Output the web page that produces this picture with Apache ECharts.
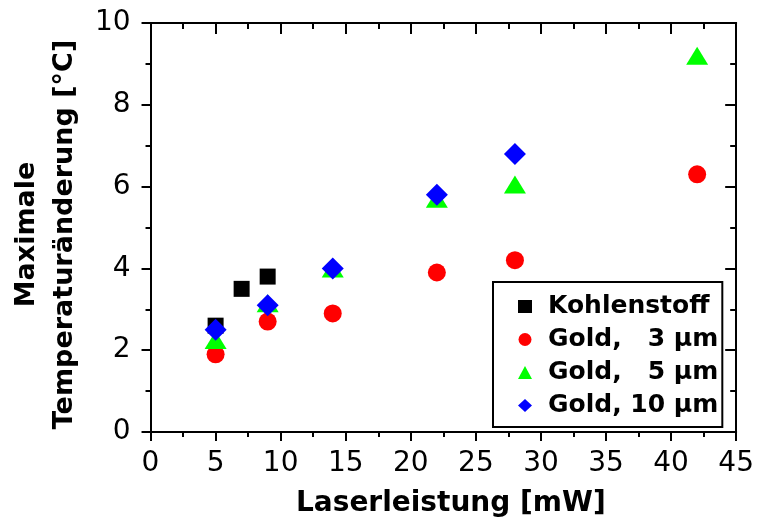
<!DOCTYPE html>
<html>
<head>
<meta charset="utf-8">
<script src="https://cdn.jsdelivr.net/npm/echarts@6/dist/echarts.min.js"></script>
<style>
html,body{margin:0;padding:0;background:#fff;}
#chart{width:757px;height:523px;}
</style>
</head>
<body>
<div id="chart"></div>
<script>
// ---- data ----
const seriesNames = ['Kohlenstoff', 'Gold,   3 µm', 'Gold,   5 µm', 'Gold, 10 µm'];
const kohlenstoffX = [5, 7, 9];
const kohlenstoffY = [2.6, 3.5, 3.8];
const gold3X = [5, 9, 14, 22, 28, 42];
const gold3Y = [1.9, 2.7, 2.9, 3.9, 4.2, 6.3];
const gold5X = [5, 9, 14, 22, 28, 42];
const gold5Y = [2.25, 3.15, 4.0, 5.7, 6.05, 9.2];
const gold10X = [5, 9, 14, 22, 28];
const gold10Y = [2.5, 3.1, 4.0, 5.8, 6.8];
const xTitle = 'Laserleistung [mW]';
const yTitle = 'Maximale\nTemperaturänderung [°C]';

function pairs(xs, ys) { return xs.map((x, i) => [x, ys[i]]); }

const FONT = '"DejaVu Sans", sans-serif';
const chart = echarts.init(document.getElementById('chart'), null, {renderer: 'canvas'});

const baseAxisLine = {show: true, onZero: false, lineStyle: {color: '#000', width: 2}};
const outerTick = {show: true, inside: false, length: 9, lineStyle: {color: '#000', width: 2}};
const innerTick = {show: true, inside: true, length: 11, lineStyle: {color: '#000', width: 2}};

chart.setOption({
  animation: false,
  backgroundColor: '#fff',
  grid: {left: 147, right: 19, top: 23, bottom: 87, containLabel: false},
  xAxis: [{
    type: 'value', min: 0, max: 45, interval: 5, position: 'bottom',
    axisLine: baseAxisLine,
    axisTick: outerTick,
    minorTick: {show: true, splitNumber: 2, length: 5, lineStyle: {color: '#000', width: 2}},
    splitLine: {show: false}, minorSplitLine: {show: false},
    axisLabel: {color: '#000', fontFamily: FONT, fontSize: 28, margin: 18, lineHeight: 28},
    name: xTitle, nameLocation: 'middle', nameGap: 58,
    nameTextStyle: {color: '#000', fontFamily: FONT, fontWeight: 'bold', fontSize: 28, lineHeight: 28, padding: [0, 0, 0, 15]}
  }, {
    type: 'value', min: 0, max: 45, interval: 5, position: 'top',
    axisLine: baseAxisLine,
    axisTick: innerTick,
    minorTick: {show: true, splitNumber: 2, length: 6, lineStyle: {color: '#000', width: 2}},
    splitLine: {show: false},
    axisLabel: {show: false}
  }],
  yAxis: [{
    type: 'value', min: 0, max: 10, interval: 2, position: 'left',
    axisLine: baseAxisLine,
    axisTick: outerTick,
    minorTick: {show: true, splitNumber: 2, length: 5, lineStyle: {color: '#000', width: 2}},
    splitLine: {show: false}, minorSplitLine: {show: false},
    axisLabel: {color: '#000', fontFamily: FONT, fontSize: 28, margin: 20},
    name: yTitle, nameLocation: 'middle', nameGap: 65,
    nameTextStyle: {color: '#000', fontFamily: FONT, fontWeight: 'bold', fontSize: 27, lineHeight: 38, padding: [0, 14, 0, 0], align: 'center'}
  }, {
    type: 'value', min: 0, max: 10, interval: 2, position: 'right',
    axisLine: baseAxisLine,
    axisTick: innerTick,
    minorTick: {show: true, splitNumber: 2, length: 6, lineStyle: {color: '#000', width: 2}},
    splitLine: {show: false},
    axisLabel: {show: false}
  }],
  legend: {
    orient: 'vertical', left: 493, top: 282,
    padding: [12, 4, 9, 25],
    itemGap: 8, itemWidth: 14, itemHeight: 13,
    symbolKeepAspect: true,
    borderColor: '#000', borderWidth: 2, backgroundColor: '#fff',
    textStyle: {color: '#000', fontFamily: FONT, fontWeight: 'bold', fontSize: 25, padding: [0, 0, 0, 11]},
    data: seriesNames
  },
  series: [
    {name: seriesNames[0], type: 'scatter', symbol: 'rect', symbolSize: 16,
     itemStyle: {color: '#000000', opacity: 1}, data: pairs(kohlenstoffX, kohlenstoffY)},
    {name: seriesNames[1], type: 'scatter', symbol: 'circle', symbolSize: 18,
     itemStyle: {color: '#ff0000', opacity: 1}, data: pairs(gold3X, gold3Y)},
    {name: seriesNames[2], type: 'scatter', symbol: 'triangle', symbolSize: [22, 18],
     itemStyle: {color: '#00ff00', opacity: 1}, data: pairs(gold5X, gold5Y)},
    {name: seriesNames[3], type: 'scatter', symbol: 'diamond', symbolSize: 22,
     itemStyle: {color: '#0000ff', opacity: 1}, data: pairs(gold10X, gold10Y)}
  ]
});
</script>
</body>
</html>
